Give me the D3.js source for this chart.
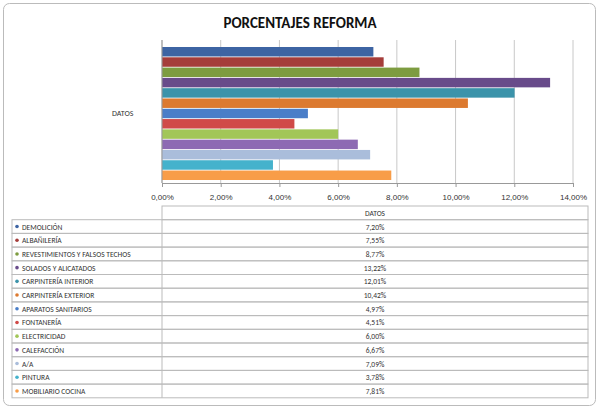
<!DOCTYPE html>
<html><head><meta charset="utf-8">
<script src="https://cdn.jsdelivr.net/npm/d3@7"></script>
<style>body{margin:0;background:#fff;font-family:Calibri,"Liberation Sans",Arial,sans-serif}</style>
</head><body><div id="chart"></div>
<script>
// Datos
let categories = ["DEMOLICIÓN","ALBAÑILERÍA","REVESTIMIENTOS Y FALSOS TECHOS","SOLADOS Y ALICATADOS","CARPINTERÍA INTERIOR","CARPINTERÍA EXTERIOR","APARATOS SANITARIOS","FONTANERÍA","ELECTRICIDAD","CALEFACCIÓN","A/A","PINTURA","MOBILIARIO COCINA"];
let values = [7.20,7.55,8.77,13.22,12.01,10.42,4.97,4.51,6.00,6.67,7.09,3.78,7.81];
let colors = ["#3d64a3","#a53d3a","#7d9c40","#684b8a","#3b93aa","#dc7a30","#4a7ec8","#d04a48","#a2c658","#8d6ab3","#aabddb","#45b2cc","#f89d48"];
let ticks = [0,2,4,6,8,10,12,14];

let svg = d3.select("#chart").append("svg").attr("width",600).attr("height",410);
svg.append("rect").attr("x",3.5).attr("y",3.5).attr("width",592).attr("height",402)
  .attr("rx",6).attr("fill","#fff").attr("stroke","#bbb");

svg.append("text").attr("x",300).attr("y",28).attr("text-anchor","middle")
  .attr("font-size",15).attr("font-weight","bold").attr("fill","#111").text("PORCENTAJES  REFORMA");

let x = d3.scaleLinear().domain([0,14]).range([162,573]);
let y = d3.scaleBand().domain(categories).range([47,180]).paddingInner(0.08);
let fmt = d => d.toFixed(2).replace(".", ",") + "%";

// grid
svg.append("g").selectAll("line").data(ticks).join("line")
  .attr("x1",d=>x(d)).attr("x2",d=>x(d)).attr("y1",40).attr("y2",183)
  .attr("stroke","#c8c8c8");

svg.append("g").selectAll("rect").data(values).join("rect")
  .attr("x",x(0)).attr("y",(d,i)=>y(categories[i]))
  .attr("width",d=>x(d)-x(0)).attr("height",y.bandwidth())
  .attr("fill",(d,i)=>colors[i]);

let ax = svg.append("g").attr("transform","translate(0,183)")
  .call(d3.axisBottom(x).tickValues(ticks).tickFormat(fmt).tickSize(4));
ax.select(".domain").attr("stroke","#999");
ax.selectAll(".tick line").attr("stroke","#999");
ax.selectAll("text").attr("font-size",8).attr("fill","#333").attr("dy","1.2em");
svg.append("line").attr("x1",x(0)).attr("x2",x(0)).attr("y1",40).attr("y2",183).attr("stroke","#999");

svg.append("text").attr("x",112).attr("y",116).attr("font-size",8).attr("fill","#333").text("DATOS");

// table
let t0 = 206, rh = 13.7, tl = 12, tm = 162, tr = 588;
let tg = svg.append("g");
tg.append("rect").attr("x",tm).attr("y",t0).attr("width",tr-tm).attr("height",rh).attr("fill","none").attr("stroke","#bbb");
tg.append("text").attr("x",(tm+tr)/2).attr("y",t0+9.5).attr("text-anchor","middle").attr("font-size",7.5).attr("fill","#333").text("DATOS");
let rows = tg.selectAll("g.r").data(categories).join("g").attr("class","r")
  .attr("transform",(d,i)=>`translate(0,${t0+rh*(i+1)})`);
rows.append("rect").attr("x",tl).attr("width",tr-tl).attr("height",rh).attr("fill","none").attr("stroke","#bbb");
rows.append("line").attr("x1",tm).attr("x2",tm).attr("y1",0).attr("y2",rh).attr("stroke","#bbb");
rows.append("circle").attr("cx",tl+5).attr("cy",rh/2).attr("r",1.8).attr("fill",(d,i)=>colors[i]);
rows.append("text").attr("x",tl+10).attr("y",rh/2+3).attr("font-size",7.5).attr("fill","#333").text(d=>d);
rows.append("text").attr("x",(tm+tr)/2).attr("y",rh/2+3).attr("text-anchor","middle").attr("font-size",7.5).attr("fill","#333").text((d,i)=>fmt(values[i]));
</script></body></html>
